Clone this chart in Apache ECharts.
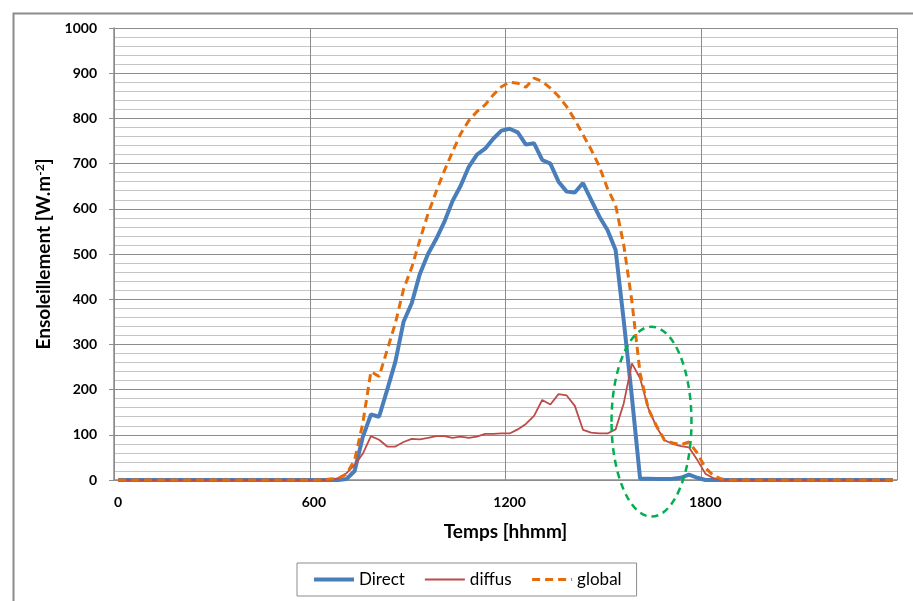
<!DOCTYPE html>
<html>
<head>
<meta charset="utf-8">
<style>
  html, body { margin: 0; padding: 0; background: #fff; }
  #chart { width: 913px; height: 601px; }
</style>
<script src="https://cdn.jsdelivr.net/npm/echarts@6/dist/echarts.min.js"></script>
</head>
<body>
<div id="chart"></div>
<script>
// 15-minute steps, labels in hhmm without leading zeros (0, 15, 30, 45, 100, ...)
const times = [];
for (let h = 0; h < 24; h++) {
  [0, 15, 30, 45].forEach((m) => times.push(String(h * 100 + m)));
}

const direct = [
  0, 0, 0, 0, 0, 0, 0, 0, 0, 0, 0, 0, 0, 0, 0, 0, 0, 0, 0, 0, 0, 0, 0, 0,
  0, 0, 0, 0, 2, 20, 95, 145, 140, 200, 262, 350, 391, 456, 500, 533, 571, 617, 651, 693,
  720, 733, 755, 773, 777, 769, 742, 745, 708, 700, 660, 638, 636, 657, 620, 583, 553, 509, 352, 183,
  3, 3, 2, 2, 3, 5, 12, 5, 0, 0, 0, 0, 0, 0, 0, 0, 0, 0, 0, 0,
  0, 0, 0, 0, 0, 0, 0, 0, 0, 0, 0, 0
];

const diffus = [
  0, 0, 0, 0, 0, 0, 0, 0, 0, 0, 0, 0, 0, 0, 0, 0, 0, 0, 0, 0, 0, 0, 0, 0,
  0, 0, 0, 4, 15, 33, 58, 97, 89, 74, 74, 84, 91, 90, 93, 97, 97, 93, 96, 93,
  96, 102, 102, 103, 103, 112, 124, 142, 177, 167, 190, 187, 164, 111, 105, 103, 103, 112, 170, 258,
  225, 159, 118, 88, 80, 75, 72, 45, 14, 4, 0, 0, 0, 0, 0, 0, 0, 0, 0, 0,
  0, 0, 0, 0, 0, 0, 0, 0, 0, 0, 0, 0
];

const global = [
  0, 0, 0, 0, 0, 0, 0, 0, 0, 0, 0, 0, 0, 0, 0, 0, 0, 0, 0, 0, 0, 0, 0, 0,
  0, 0, 2, 4, 13, 44, 125, 240, 229, 288, 347, 422, 470, 531, 589, 638, 684, 726, 766, 795,
  815, 830, 852, 870, 880, 878, 869, 889, 882, 867, 849, 826, 797, 764, 731, 694, 645, 608, 520, 395,
  236, 158, 120, 88, 82, 78, 84, 60, 27, 10, 2, 0, 0, 0, 0, 0, 0, 0, 0, 0,
  0, 0, 0, 0, 0, 0, 0, 0, 0, 0, 0, 0
];

// annotation ellipse around the late-afternoon diffuse peak (category index, W/m2)
const ellipseCenter = [65.4, 129];
const ellipseRadius = [4.9, 210];

const font = "Lato, 'Liberation Sans', sans-serif";
const gridMajor = "#8c8c8c";
const gridMinor = "#c4c4c4";

const chart = echarts.init(document.getElementById("chart"));

chart.setOption({
  animation: false,
  textStyle: { fontFamily: font },
  grid: { left: 114, right: 16, top: 28, bottom: 121 },
  legend: {
    left: 297, top: 563,
    padding: [8, 15],
    borderColor: "#8c8c8c", borderWidth: 1,
    itemWidth: 40, itemHeight: 14, itemGap: 19,
    itemStyle: { opacity: 0 },
    textStyle: { fontFamily: font, fontSize: 17, color: "#000" },
    data: [
      { name: "Direct", lineStyle: { width: 4 } },
      { name: "diffus", lineStyle: { width: 2 } },
      { name: "global", lineStyle: { width: 3 } }
    ]
  },
  xAxis: {
    type: "category",
    data: times,
    boundaryGap: true,
    name: "Temps [hhmm]",
    nameLocation: "middle",
    nameGap: 42,
    nameTextStyle: { fontFamily: font, fontSize: 19, fontWeight: "bold", color: "#000" },
    axisLine: { lineStyle: { color: gridMajor, width: 1.5 } },
    axisTick: { interval: 23, length: 5, lineStyle: { color: gridMajor } },
    axisLabel: { interval: 23, margin: 15, fontSize: 14, fontWeight: "bold", color: "#000" },
    splitLine: { show: true, interval: 23, lineStyle: { color: gridMajor, width: 1 } }
  },
  yAxis: {
    type: "value",
    min: 0, max: 1000, interval: 100,
    name: "Ensoleillement [W.m{sup|-2}]",
    nameLocation: "middle",
    nameGap: 55,
    nameTextStyle: {
      fontFamily: font, fontSize: 19, fontWeight: "bold", color: "#000",
      rich: { sup: { fontFamily: font, fontSize: 12, fontWeight: "bold", color: "#000", verticalAlign: "top", padding: [0, 0, 8, 0] } }
    },
    axisLine: { show: true, lineStyle: { color: gridMajor, width: 1.5 } },
    axisTick: { show: true, length: 5, lineStyle: { color: gridMajor } },
    axisLabel: { margin: 17, fontSize: 14, fontWeight: "bold", color: "#000", formatter: (v) => String(v) },
    splitLine: { show: true, lineStyle: { color: gridMajor, width: 1 } },
    minorTick: { show: false, splitNumber: 5 },
    minorSplitLine: { show: true, lineStyle: { color: gridMinor, width: 1 } }
  },
  series: [
    { name: "Direct", type: "line", data: direct, symbol: "none", lineStyle: { color: "#4a7ebb", width: 4 }, itemStyle: { color: "#4a7ebb" }, z: 2 },
    { name: "diffus", type: "line", data: diffus, symbol: "none", lineStyle: { color: "#be4b48", width: 1.8 }, itemStyle: { color: "#be4b48" }, z: 3 },
    { name: "global", type: "line", data: global, symbol: "none", lineStyle: { color: "#e46c0a", width: 3, type: [8, 5] }, itemStyle: { color: "#e46c0a" }, z: 4 }
  ]
});

// category positions are whole bands, so interpolate the fractional centre between two bands
const toPx = (idx, v) => chart.convertToPixel({ xAxisIndex: 0, yAxisIndex: 0 }, [idx, v]);
const base = Math.floor(ellipseCenter[0]);
const p0 = toPx(base, ellipseCenter[1]);
const p1 = toPx(base + 1, ellipseCenter[1] + ellipseRadius[1]);
const band = p1[0] - p0[0];
const cx = p0[0] + (ellipseCenter[0] - base) * band;
const cy = p0[1];
chart.setOption({
  graphic: [
    { type: "rect", left: 11, top: 11, shape: { width: 1000, height: 700 }, style: { fill: "none", stroke: "#8c8c8c", lineWidth: 2 }, silent: true },
    { type: "ellipse", shape: { cx: cx, cy: cy, rx: ellipseRadius[0] * band, ry: Math.abs(cy - p1[1]) }, style: { fill: "none", stroke: "#00b050", lineWidth: 2.5, lineDash: [7, 5] }, z: 100, silent: true }
  ]
});
</script>
</body>
</html>
